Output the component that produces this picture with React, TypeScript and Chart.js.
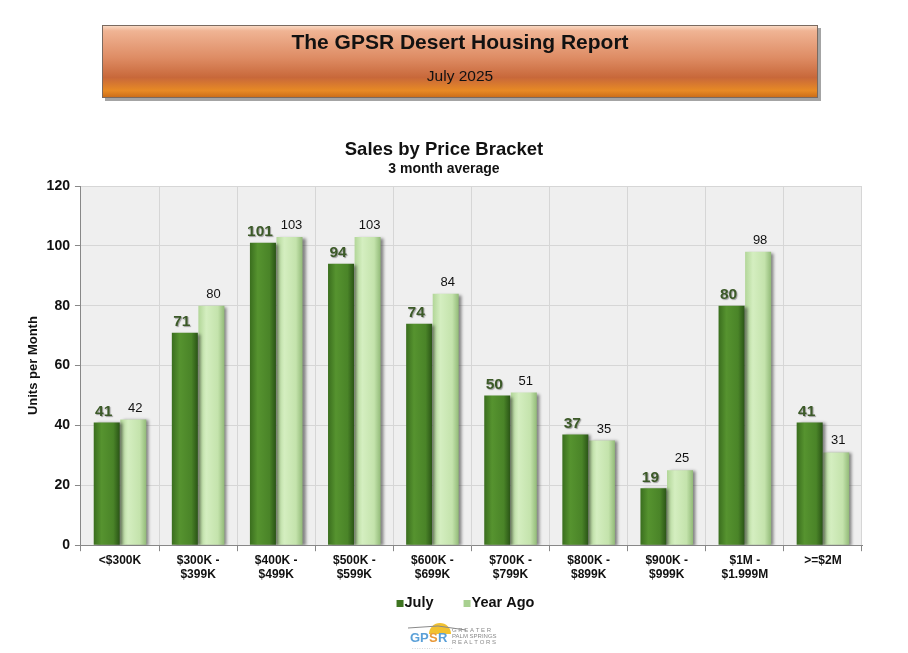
import { useEffect, useRef } from "react"
import { Chart, registerables } from "chart.js"

Chart.register(...registerables)

const brackets = [
  ["<$300K"],
  ["$300K -", "$399K"],
  ["$400K -", "$499K"],
  ["$500K -", "$599K"],
  ["$600K -", "$699K"],
  ["$700K -", "$799K"],
  ["$800K -", "$899K"],
  ["$900K -", "$999K"],
  ["$1M -", "$1.999M"],
  [">=$2M"],
]
const july = [41, 71, 101, 94, 74, 50, 37, 19, 80, 41]
const yearAgo = [42, 80, 103, 103, 84, 51, 35, 25, 98, 31]

const FONT = "Arial, 'Liberation Sans', sans-serif"
const DARK = "#4e8a2e"
const LIGHT = "#c6e6b0"

// orange banner at the top, legend and little logo at the bottom
const decorPlugin = {
  id: "decor",
  beforeDraw(chart: any) {
    const { ctx } = chart
    ctx.save()
    ctx.fillStyle = "#ffffff"
    ctx.fillRect(0, 0, chart.width, chart.height)

    const x = 102, y = 25, w = 716, h = 73
    ctx.fillStyle = "rgba(90,90,90,0.55)"
    ctx.fillRect(x + 3, y + 3, w, h)
    const g = ctx.createLinearGradient(0, y, 0, y + h)
    g.addColorStop(0, "#fbe0cc")
    g.addColorStop(0.08, "#f0b494")
    g.addColorStop(0.45, "#de8c64")
    g.addColorStop(0.72, "#c8683a")
    g.addColorStop(0.9, "#e88a24")
    g.addColorStop(1, "#c86a18")
    ctx.fillStyle = g
    ctx.fillRect(x, y, w, h)
    ctx.strokeStyle = "#7a6a60"
    ctx.lineWidth = 1
    ctx.strokeRect(x + 0.5, y + 0.5, w - 1, h - 1)

    ctx.fillStyle = "#111111"
    ctx.textAlign = "center"
    ctx.textBaseline = "middle"
    ctx.font = `bold 21px ${FONT}`
    ctx.fillText("The GPSR Desert Housing Report", x + w / 2, 43)
    ctx.font = `15.5px ${FONT}`
    ctx.fillText("July 2025", x + w / 2, 77)

    // plot background
    const a = chart.chartArea
    ctx.fillStyle = "#efefef"
    ctx.fillRect(a.left, a.top, a.right - a.left, a.bottom - a.top)
    ctx.restore()
  },
  afterDraw(chart: any) {
    const { ctx } = chart
    ctx.save()

    // legend
    ctx.font = `bold 14.5px ${FONT}`
    ctx.textBaseline = "middle"
    ctx.textAlign = "left"
    const ly = 603
    const items = chart.data.datasets.map((d: any, i: number) => ({
      text: d.label,
      color: i === 0 ? "#3e7420" : "#a8d090",
    }))
    const widths = items.map((it: any) => 8 + ctx.measureText(it.text).width)
    const gap = 30
    const total = widths.reduce((s: number, v: number) => s + v, 0) + gap
    let lx = (chart.chartArea.left + chart.chartArea.right) / 2 - total / 2 - 6
    items.forEach((it: any, i: number) => {
      ctx.fillStyle = it.color
      ctx.fillRect(lx, ly - 3, 7, 7)
      ctx.fillStyle = "#111111"
      ctx.fillText(it.text, lx + 8, ly)
      lx += widths[i] + gap
    })

    // logo sketch
    ctx.fillStyle = "#f2c230"
    ctx.beginPath()
    ctx.arc(440, 634, 11, Math.PI, 0)
    ctx.fill()
    ctx.strokeStyle = "#8a8a8a"
    ctx.lineWidth = 1
    ctx.beginPath()
    ctx.moveTo(408, 628)
    ctx.lineTo(438, 626)
    ctx.lineTo(466, 630)
    ctx.stroke()
    ctx.font = `bold 13px ${FONT}`
    ctx.fillStyle = "#5aa0d8"
    ctx.fillText("GP", 410, 638)
    ctx.fillStyle = "#e89a3a"
    ctx.fillText("S", 429, 638)
    ctx.fillStyle = "#5aa0d8"
    ctx.fillText("R", 438, 638)
    ctx.fillStyle = "#8a8a8a"
    ctx.font = `6px ${FONT}`
    ctx.fillText("G R E A T E R", 452, 630)
    ctx.fillText("PALM SPRINGS", 452, 636)
    ctx.fillText("R E A L T O R S", 452, 642)
    ctx.font = `4px ${FONT}`
    ctx.fillStyle = "#b0b0b0"
    ctx.fillText("- - - - - - - - - - - - - - - - -", 412, 648)
    ctx.restore()
  },
}

// shading of each bar, plus a soft drop shadow
const shadowPlugin = {
  id: "barShadow",
  beforeDatasetsDraw(chart: any) {
    const { ctx } = chart
    chart.data.datasets.forEach((_ds: any, i: number) => {
      const dark = i === 0
      chart.getDatasetMeta(i).data.forEach((bar: any) => {
        const l = bar.x - bar.width / 2
        const g = ctx.createLinearGradient(l, 0, l + bar.width, 0)
        if (dark) {
          g.addColorStop(0, "#3a6e1e")
          g.addColorStop(0.3, "#56932f")
          g.addColorStop(0.75, "#4a8428")
          g.addColorStop(1, "#2a5416")
        } else {
          g.addColorStop(0, "#b2d698")
          g.addColorStop(0.3, "#d4eec0")
          g.addColorStop(0.75, "#c4e3ac")
          g.addColorStop(1, "#92ba78")
        }
        bar.options = { ...bar.options, backgroundColor: g }
      })
    })
    ctx.save()
    ctx.shadowColor = "rgba(40,40,40,0.55)"
    ctx.shadowOffsetX = 3
    ctx.shadowOffsetY = 1
    ctx.shadowBlur = 3
  },
  afterDatasetsDraw(chart: any) {
    chart.ctx.restore()
  },
}

const labelPlugin = {
  id: "barLabels",
  afterDatasetsDraw(chart: any) {
    const { ctx } = chart
    chart.data.datasets.forEach((ds: any, i: number) => {
      const meta = chart.getDatasetMeta(i)
      meta.data.forEach((bar: any, j: number) => {
        const v = ds.data[j]
        ctx.save()
        ctx.textAlign = "center"
        ctx.textBaseline = "bottom"
        if (i === 0) {
          ctx.font = `bold 15.5px ${FONT}`
          ctx.shadowColor = "rgba(120,120,120,0.7)"
          ctx.shadowOffsetX = 1
          ctx.shadowOffsetY = 1
          ctx.shadowBlur = 1
          ctx.fillStyle = "#3c5a28"
          ctx.fillText(String(v), bar.x - 3, bar.y - 3)
        } else {
          ctx.font = `13px ${FONT}`
          ctx.fillStyle = "#111111"
          ctx.fillText(String(v), bar.x + 2, bar.y - 5)
        }
        ctx.restore()
      })
    })
  },
}

export default function App() {
  const canvasRef = useRef<HTMLCanvasElement>(null)

  useEffect(() => {
    const ctx = canvasRef.current?.getContext("2d")
    if (!ctx) return

    const chart = new Chart(ctx, {
      type: "bar",
      data: {
        labels: brackets,
        datasets: [
          {
            label: "July",
            data: july,
            backgroundColor: DARK,
            borderWidth: 0,
            categoryPercentage: 0.68,
            barPercentage: 0.98,
          },
          {
            label: "Year Ago",
            data: yearAgo,
            backgroundColor: LIGHT,
            borderWidth: 0,
            categoryPercentage: 0.68,
            barPercentage: 0.98,
          },
        ],
      },
      options: {
        responsive: false,
        animation: false,
        layout: {
          padding: { top: 139, left: 26, right: 46, bottom: 69 },
        },
        plugins: {
          title: {
            display: true,
            text: "Sales by Price Bracket",
            color: "#111111",
            font: { family: FONT, size: 18.5, weight: "bold" },
            padding: { top: 0, bottom: 0 },
          },
          subtitle: {
            display: true,
            text: "3 month average",
            color: "#111111",
            font: { family: FONT, size: 14, weight: "bold" },
            padding: { top: 0, bottom: 8 },
          },
          legend: { display: false },
          tooltip: { enabled: false },
        },
        scales: {
          x: {
            grid: {
              color: "#d6d6d6",
              offset: true,
              tickLength: 6,
              tickColor: "#888888",
            },
            border: { color: "#888888" },
            ticks: {
              color: "#111111",
              font: { family: FONT, weight: "bold", size: 12 },
              maxRotation: 0,
              autoSkip: false,
              padding: 2,
            },
          },
          y: {
            min: 0,
            max: 120,
            grid: { color: "#d6d6d6", tickLength: 6, tickColor: "#888888" },
            border: { color: "#888888" },
            ticks: {
              stepSize: 20,
              color: "#111111",
              font: { family: FONT, weight: "bold", size: 14 },
              padding: 5,
            },
            title: {
              display: true,
              text: "Units per Month",
              color: "#111111",
              font: { family: FONT, size: 13, weight: "bold" },
              padding: { top: 0, bottom: 0 },
            },
          },
        },
      },
      plugins: [decorPlugin, shadowPlugin, labelPlugin],
    })

    return () => {
      chart.destroy()
    }
  }, [])

  return (
    <div style={{ position: "absolute", left: 0, top: 0, width: 908, height: 653 }}>
      <canvas ref={canvasRef} width={908} height={653}></canvas>
    </div>
  )
}
